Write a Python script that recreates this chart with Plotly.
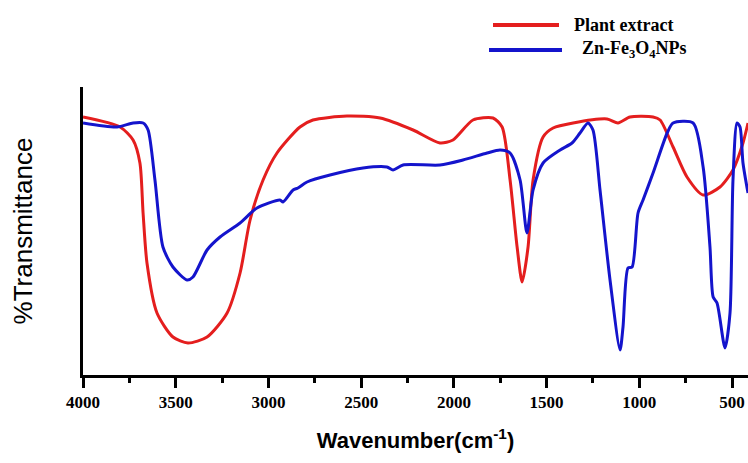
import plotly.graph_objects as go

# ---- data (wavenumber in cm^-1, transmittance in arbitrary units) ----
plant_wn = [4000, 3800, 3730, 3693, 3676, 3655, 3601, 3515, 3434, 3331, 3223, 3153,
            3099, 3029, 2954, 2830, 2760, 2577, 2398, 2220, 2075, 2005, 1897, 1789,
            1740, 1697, 1659, 1632, 1600, 1573, 1519, 1465, 1357, 1174, 1115, 1050,
            926, 888, 818, 743, 656, 565, 495, 441, 414]
plant_t = [258, 248, 235, 212, 162, 112, 62, 38, 32, 38, 62, 102,
           155, 195, 222, 248, 255, 259, 257, 245, 232, 235, 255, 257,
           248, 195, 128, 93, 128, 195, 238, 247, 252, 256, 252, 258,
           258, 255, 228, 198, 180, 188, 205, 232, 252]

np_wn = [4000, 3817, 3730, 3676, 3649, 3612, 3569, 3515, 3439, 3407, 3331, 3261,
         3153, 3062, 2938, 2921, 2867, 2841, 2792, 2668, 2490, 2361, 2328, 2274,
         2075, 1951, 1821, 1751, 1697, 1643, 1606, 1573, 1519, 1427, 1363, 1320,
         1277, 1250, 1212, 1158, 1104, 1088, 1061, 1039, 1007, 980, 926, 850,
         818, 710, 656, 619, 602, 581, 538, 511, 495, 473, 457, 441, 414]
np_t = [252, 248, 252, 252, 245, 195, 128, 108, 95, 98, 125, 138,
        152, 167, 175, 173, 185, 187, 193, 200, 207, 208, 205, 210,
        210, 215, 222, 225, 222, 195, 142, 185, 212, 225, 232, 242,
        252, 245, 185, 95, 25, 48, 107, 108, 162, 175, 202, 242,
        252, 252, 208, 128, 78, 72, 27, 62, 195, 252, 248, 212, 182]

x_ticks = [4000, 3500, 3000, 2500, 2000, 1500, 1000, 500]
series_names = ["Plant extract", "Zn-Fe<sub>3</sub>O<sub>4</sub>NPs"]
series_colors = ["#e41e1e", "#1414cc"]

W, H = 748, 463
L, R, T, B = 83, 0, 87, 88

fig = go.Figure()
fig.add_trace(go.Scatter(x=plant_wn, y=plant_t, mode="lines", name=series_names[0],
                         line=dict(color=series_colors[0], width=3, shape="spline", smoothing=0.7),
                         showlegend=False))
fig.add_trace(go.Scatter(x=np_wn, y=np_t, mode="lines", name=series_names[1],
                         line=dict(color=series_colors[1], width=3, shape="spline", smoothing=0.7),
                         showlegend=False))

def px2paper(px, py):
    return (px - L) / (W - L - R), (H - B - py) / (H - T - B)

# custom legend
legend_rows = [(25, 493, 559, 572), (50, 489, 562, 580)]
for (ly, x0, x1, tx), name, col in zip(legend_rows, series_names, series_colors):
    a0, b0 = px2paper(x0, ly)
    a1, _ = px2paper(x1, ly)
    fig.add_shape(type="line", xref="paper", yref="paper", x0=a0, x1=a1, y0=b0, y1=b0,
                  line=dict(color=col, width=4))
    ax, ay = px2paper(tx, ly)
    fig.add_annotation(xref="paper", yref="paper", x=ax, y=ay, text="<b>" + name + "</b>",
                       showarrow=False, xanchor="left", yanchor="middle",
                       font=dict(family="Liberation Serif", size=18, color="black"))

fig.update_layout(
    width=W, height=H,
    margin=dict(l=L, r=R, t=T, b=B),
    paper_bgcolor="white", plot_bgcolor="white",
    showlegend=False,
)
fig.update_xaxes(
    range=[4000, 414], autorange=False,
    tickvals=x_ticks, ticktext=["<b>%d</b>" % v for v in x_ticks],
    ticks="outside", ticklen=10, tickwidth=3, tickcolor="black",
    minor=dict(ticks="outside", ticklen=5, tickwidth=2.5, tickcolor="black", dtick=250, tick0=0),
    showline=True, linecolor="black", linewidth=3,
    showgrid=False, zeroline=False,
    tickfont=dict(family="Liberation Serif", size=17, color="black"),
    title=dict(text="<b>Wavenumber(cm<sup>-1</sup>)</b>", standoff=22,
               font=dict(family="Liberation Sans", size=22, color="black")),
)
fig.update_yaxes(
    range=[0, 288], autorange=False,
    showticklabels=False, ticks="",
    showline=True, linecolor="black", linewidth=3,
    showgrid=False, zeroline=False,
    title=dict(text="%Transmittance", standoff=40,
               font=dict(family="Liberation Sans", size=26, color="black")),
)
fig.write_html("out.html")
